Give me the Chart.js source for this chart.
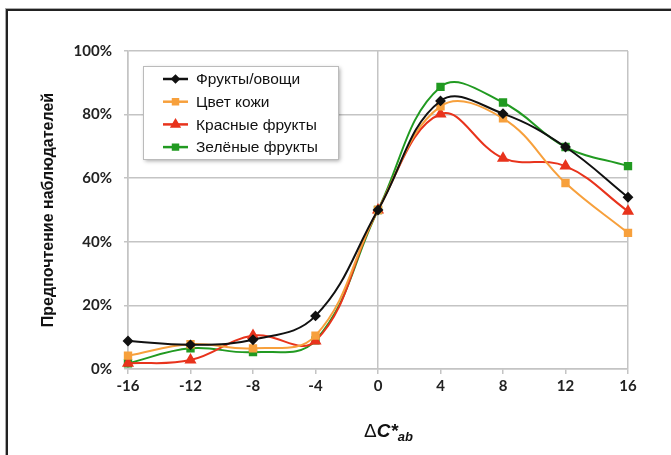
<!DOCTYPE html>
<html>
<head>
<meta charset="utf-8">
<script src="https://cdn.jsdelivr.net/npm/chart.js@4/dist/chart.umd.min.js"></script>
<style>
    html, body { margin: 0; padding: 0; background: #fff; }
    #wrap { position: relative; width: 671px; height: 455px; overflow: hidden; }
    #frame {
        position: absolute; left: 6px; top: 9px; width: 700px; height: 500px;
        border-top: 2px solid #222; border-left: 2px solid #222;
        box-shadow: -1px -1px 0 #aaa;
    }
    #chart { position: absolute; left: 0; top: 0; }
    #x-title {
        position: absolute; left: 364px; top: 420px;
        font-family: "Liberation Sans", Arial, sans-serif; font-size: 19px; color: #111;
    }
    #x-title b { font-style: italic; }
    #x-title sub { font-size: 13px; font-weight: bold; font-style: italic; vertical-align: -4px; }
</style>
</head>
<body>
<div id="wrap">
    <div id="frame"></div>
    <canvas id="chart" width="671" height="455"></canvas>
    <div id="x-title">Δ<b>C*</b><sub>ab</sub></div>
</div>
<script>
const xValues = [-16, -12, -8, -4, 0, 4, 8, 12, 16];
const fruitsVeg = [8.8, 7.6, 9.2, 16.7, 50, 84.3, 80.3, 69.8, 54];
const skinColor = [4.2, 7.8, 6.5, 10.5, 50, 82.6, 78.8, 58.5, 42.8];
const redFruits = [1.8, 2.8, 10.5, 8.8, 50, 80.2, 66.3, 63.8, 49.6];
const greenFruits = [1.8, 6.5, 5.3, 9, 50, 88.7, 83.8, 69.8, 63.8];
const yTicks = [0, 20, 40, 60, 80, 100];

const LEFT = 128, RIGHT = 628, TOP = 51, BOTTOM = 369;

function toPoints(values) {
    return xValues.map((x, i) => ({ x: x, y: values[i] }));
}

function series(label, values, color, style, radius) {
    return {
        label: label,
        data: toPoints(values),
        borderColor: color,
        backgroundColor: color,
        borderWidth: 2,
        pointStyle: style,
        pointRadius: radius,
        pointHoverRadius: radius,
        tension: 0.4,
        clip: false,
    };
}

// legend box drawn inside the plot, like the original
const boxLegend = {
    id: "boxLegend",
    afterDraw(chart) {
        const ctx = chart.ctx;
        const x = 143, y = 66, w = 195, h = 93;
        ctx.save();
        ctx.shadowColor = "rgba(0,0,0,0.35)";
        ctx.shadowBlur = 4;
        ctx.shadowOffsetX = 2;
        ctx.shadowOffsetY = 2;
        ctx.fillStyle = "#fff";
        ctx.fillRect(x, y, w, h);
        ctx.restore();
        ctx.save();
        ctx.strokeStyle = "#bbb";
        ctx.lineWidth = 1;
        ctx.strokeRect(x + 0.5, y + 0.5, w, h);
        ctx.font = "15.5px 'Liberation Sans', Arial, sans-serif";
        ctx.textBaseline = "middle";
        chart.data.datasets.forEach((ds, i) => {
            const cy = 79 + i * 22.7;
            ctx.strokeStyle = ds.borderColor;
            ctx.lineWidth = 2.5;
            ctx.beginPath();
            ctx.moveTo(163, cy);
            ctx.lineTo(188, cy);
            ctx.stroke();
            ctx.fillStyle = ds.backgroundColor;
            Chart.helpers.drawPoint(ctx, {
                pointStyle: ds.pointStyle,
                radius: ds.pointRadius - 1,
                rotation: 0,
                borderWidth: 1,
            }, 175.5, cy);
            ctx.fillStyle = "#111";
            ctx.fillText(ds.label, 196, cy + 1);
        });
        ctx.restore();
    },
};

const edgeLines = [-16, 0, 16];

new Chart(document.getElementById("chart"), {
    type: "line",
    data: {
        datasets: [
            series("Фрукты/овощи", fruitsVeg, "#111111", "rectRot", 4),
            series("Цвет кожи", skinColor, "#f7a03c", "rect", 4.5),
            series("Красные фрукты", redFruits, "#e8331c", "triangle", 5),
            series("Зелёные фрукты", greenFruits, "#219a21", "rect", 4.5),
        ],
    },
    options: {
        responsive: false,
        animation: false,
        layout: { padding: { left: 0, top: TOP, right: 671 - RIGHT, bottom: 0 } },
        plugins: { legend: { display: false }, tooltip: { enabled: false } },
        scales: {
            x: {
                type: "linear",
                min: -16,
                max: 16,
                afterBuildTicks(scale) {
                    scale.ticks = xValues.map((v) => ({ value: v }));
                },
                afterFit(scale) {
                    scale.height = 455 - BOTTOM;
                },
                ticks: {
                    font: { family: "Lato, 'Liberation Sans', sans-serif", size: 15, weight: "bold" },
                    color: "#222",
                    padding: 3,
                    maxRotation: 0,
                },
                grid: {
                    color: (c) => (edgeLines.includes(c.tick?.value) ? "#c4c4c4" : "rgba(0,0,0,0)"),
                    tickColor: "#c4c4c4",
                    lineWidth: 1.5,
                    tickLength: 5,
                },
                border: { color: "#c4c4c4", width: 1.5 },
            },
            y: {
                min: 0,
                max: 100,
                afterBuildTicks(scale) {
                    scale.ticks = yTicks.map((v) => ({ value: v }));
                },
                afterFit(scale) {
                    scale.width = LEFT;
                },
                ticks: {
                    callback: (v) => v + "%",
                    font: { family: "Lato, 'Liberation Sans', sans-serif", size: 15, weight: "bold" },
                    color: "#222",
                    padding: 12,
                },
                grid: { color: "#c4c4c4", lineWidth: 1.5, tickLength: 4 },
                border: { color: "#c4c4c4", width: 1.5 },
                title: {
                    display: true,
                    text: "Предпочтение наблюдателей",
                    font: { family: "'Liberation Sans Narrow', 'Arial Narrow', 'Liberation Sans', sans-serif", size: 16, weight: "bold" },
                    color: "#111",
                    padding: { top: 39, bottom: 0 },
                },
            },
        },
    },
    plugins: [boxLegend],
});
</script>
</body>
</html>
